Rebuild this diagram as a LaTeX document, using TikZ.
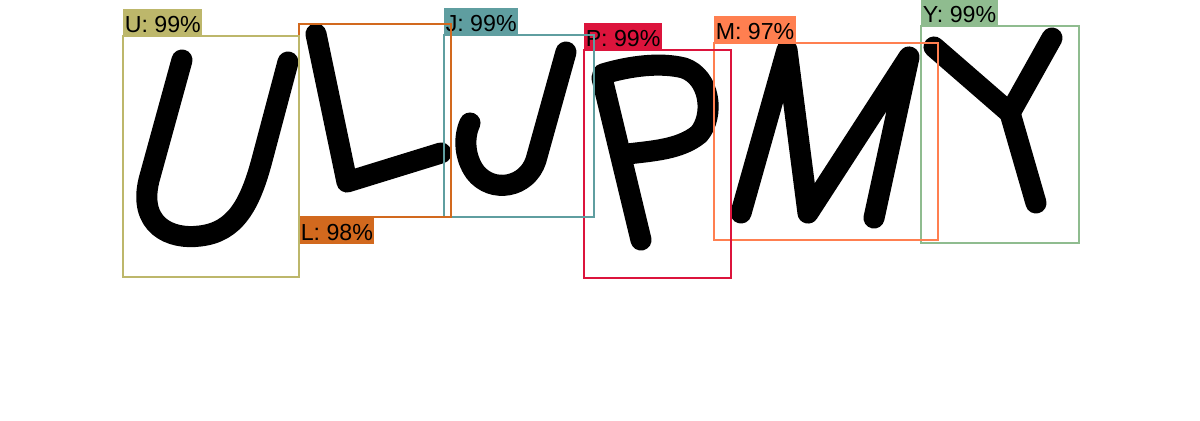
\documentclass[tikz,border=0pt]{standalone}
\usepackage{fontspec}
\setmainfont{Liberation Sans}
\definecolor{colU}{RGB}{189,183,107}
\definecolor{colL}{RGB}{210,105,30}
\definecolor{colJ}{RGB}{95,158,160}
\definecolor{colP}{RGB}{220,20,60}
\definecolor{colM}{RGB}{255,127,80}
\definecolor{colY}{RGB}{143,188,143}
\tikzset{
	pen/.style={line width=12pt, line cap=round, line join=round},
	detbox/.style={draw=#1, line width=1.1pt},
	detlabel/.style={fill=#1, inner xsep=0.8pt, inner ysep=0pt, text height=13.2pt, text depth=1.7pt, font=\fontsize{13.2}{15}\selectfont}
}

\begin{document}
\begin{tikzpicture}[x=0.02cm, y=-0.02cm]
	\useasboundingbox (0,0) rectangle (1200,420);

	% handwritten letters
	\draw[pen] (182,60) -- (149,180) .. controls (138,225) and (170,240) .. (200,236) .. controls (235,232) and (250,205) .. (262,160) -- (288,62);
	\draw[pen] (316,34) -- (347,182) -- (441,153);
	\draw[pen] (566,52) -- (536,160) .. controls (527,188) and (492,194) .. (475,172) .. controls (465,158) and (463,138) .. (470,123);
	\draw[pen] (602,78) -- (641,240);
	\draw[pen] (603,74) .. controls (630,66) and (660,62) .. (684,68) .. controls (710,77) and (715,115) .. (699,134) .. controls (680,150) and (650,151) .. (628,154);
	\draw[pen] (741,213) -- (787,50) -- (808,213) -- (909,57) -- (874,218);
	\draw[pen] (934,47) -- (1010,113) -- (1052,38);
	\draw[pen] (1010,113) -- (1036,203);

	% detections
	\draw[detbox=colY] (921,26) rectangle (1079,243);
	\node[detlabel=colY, anchor=south west] (labY) at (921,26) {Y: 99\%};

	\draw[detbox=colM] (714,43) rectangle (938,240);
	\node[detlabel=colM, anchor=south west] (labM) at (714,43) {M: 97\%};

	\draw[detbox=colP] (584,50) rectangle (731,278);
	\node[detlabel=colP, anchor=south west] (labP) at (584,50) {P: 99\%};

	\draw[detbox=colJ] (444,35) rectangle (594,217);
	\node[detlabel=colJ, anchor=south west] (labJ) at (444,35) {J: 99\%};

	\draw[detbox=colL] (299,24) rectangle (451,217);
	\node[detlabel=colL, anchor=north west] (labL) at (299,217) {L: 98\%};

	\draw[detbox=colU] (123,36) rectangle (299,277);
	\node[detlabel=colU, anchor=south west] (labU) at (123,36) {U: 99\%};
\end{tikzpicture}
\end{document}
